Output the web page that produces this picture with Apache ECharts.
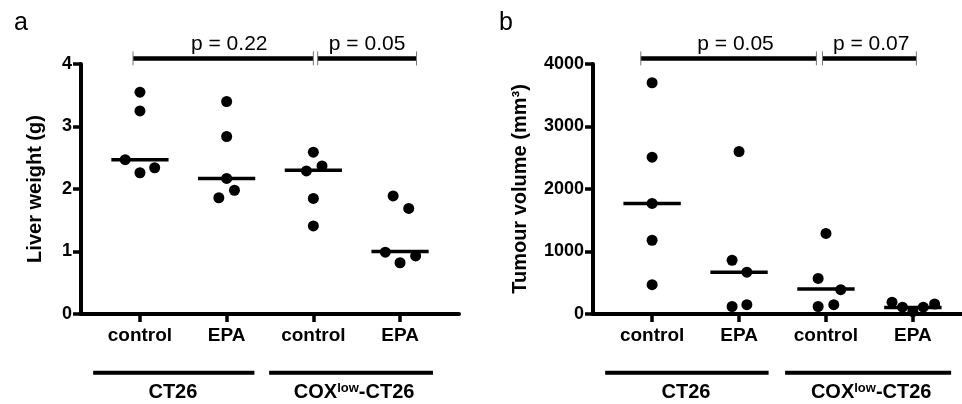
<!DOCTYPE html>
<html>
<head>
<meta charset="utf-8">
<script src="https://cdn.jsdelivr.net/npm/echarts@6/dist/echarts.min.js"></script>
<style>
  html, body { margin: 0; padding: 0; background: #fff; }
  #chart { width: 962px; height: 404px; }
</style>
</head>
<body>
<div id="chart"></div>
<script>
var groups = ['control', 'EPA', 'control', 'EPA'];
var cellLines = ['{b|CT26}', '{b|COX}{s|low}{b|-CT26}'];

// panel a: liver weight (g)
var liverWeight = [
  [3.55, 3.25, 2.47, 2.26, 2.34],
  [3.40, 2.84, 2.17, 1.98, 1.86],
  [2.59, 2.37, 2.29, 1.85, 1.41],
  [1.89, 1.69, 0.99, 0.93, 0.82]
];
var liverMedian = [2.47, 2.17, 2.30, 1.00];
var liverP = ['p = 0.22', 'p = 0.05'];

// panel b: tumour volume (mm3)
var tumourVolume = [
  [3700, 2510, 1770, 1180, 470],
  [2600, 860, 670, 120, 150],
  [1290, 570, 390, 120, 150],
  [190, 110, 40, 110, 160]
];
var tumourMedian = [1770, 670, 400, 105];
var tumourP = ['p = 0.05', 'p = 0.07'];

// horizontal jitter of the dots (category units)
var jitterA = [[0, 0, -0.17, 0, 0.17], [0, 0, 0, 0.09, -0.09], [0, 0.1, -0.08, 0, 0], [-0.08, 0.1, -0.17, 0.18, 0]];
var jitterB = [[0, 0, 0, 0, 0], [0, -0.08, 0.09, -0.08, 0.09], [0, -0.09, 0.17, -0.09, 0.09], [-0.24, -0.12, 0, 0.12, 0.25]];

var FONT = 'Liberation Sans, Arial, sans-serif';

function dots(vals, jit) {
  var out = [];
  for (var g = 0; g < vals.length; g++) {
    for (var i = 0; i < vals[g].length; i++) {
      out.push([g + jit[g][i], vals[g][i]]);
    }
  }
  return out;
}

// one segment per data item: [x1, y1, x2, y2]
function segSeries(idx, data, width, ticks) {
  return {
    type: 'custom', xAxisIndex: idx, yAxisIndex: idx, clip: false, silent: true,
    data: data,
    renderItem: function (params, api) {
      var p1 = api.coord([api.value(0), api.value(1)]);
      var p2 = api.coord([api.value(2), api.value(3)]);
      var kids = [{
        type: 'line',
        shape: { x1: p1[0], y1: p1[1], x2: p2[0], y2: p2[1] },
        style: { stroke: '#000', lineWidth: width }
      }];
      if (ticks) {
        [p1, p2].forEach(function (p) {
          kids.push({
            type: 'line',
            shape: { x1: p[0], y1: p[1] - 7, x2: p[0], y2: p[1] + 7 },
            style: { stroke: '#777', lineWidth: 1 }
          });
        });
      }
      return { type: 'group', children: kids };
    }
  };
}

function textSeries(idx, data, texts, size, weight) {
  return {
    type: 'custom', xAxisIndex: idx, yAxisIndex: idx, clip: false, silent: true,
    data: data,
    renderItem: function (params, api) {
      var p = api.coord([api.value(0), api.value(1)]);
      var t = texts[params.dataIndex];
      if (t.indexOf('{') < 0) t = '{b|' + t + '}';
      return {
        type: 'text', x: p[0], y: p[1],
        style: {
          text: t,
          align: 'center', verticalAlign: 'middle', fill: '#000',
          rich: {
            b: { fontSize: size, fontWeight: weight, fontFamily: FONT, fill: '#000' },
            s: { fontSize: 13, fontWeight: 'bold', fontFamily: FONT, fill: '#000', padding: [0, 0, 9, 0] }
          }
        }
      };
    }
  };
}

function medians(m) {
  return m.map(function (v, g) { return [g - 0.33, v, g + 0.33, v]; });
}

function xAxisOf(idx, max) {
  return {
    type: 'value', gridIndex: idx, min: -0.68, max: max,
    axisLine: { show: true, onZero: false, lineStyle: { color: '#000', width: 4 } },
    axisTick: { show: true, customValues: [0, 1, 2, 3], length: 8, lineStyle: { color: '#000', width: 3.5 } },
    axisLabel: {
      customValues: [0, 1, 2, 3], margin: 12,
      formatter: function (v) { return groups[Math.round(v)]; },
      color: '#000', fontSize: 19, fontWeight: 'bold', fontFamily: FONT
    },
    splitLine: { show: false }
  };
}

function yAxisOf(idx, max, step, name, gap) {
  return {
    type: 'value', gridIndex: idx, min: 0, max: max, interval: step,
    name: name, nameLocation: 'middle', nameGap: gap,
    nameTextStyle: { color: '#000', fontSize: 20, fontWeight: 'bold', fontFamily: FONT },
    axisLine: { show: true, onZero: false, lineStyle: { color: '#000', width: 4 } },
    axisTick: { show: true, length: 8, lineStyle: { color: '#000', width: 3.5 } },
    axisLabel: {
      color: '#000', fontSize: 18, fontWeight: 'bold', fontFamily: FONT, margin: 9,
      formatter: function (v) { return String(v); }
    },
    splitLine: { show: false }
  };
}

var chart = echarts.init(document.getElementById('chart'));
var option = {
  animation: false,
  backgroundColor: '#fff',
  title: [
    { text: 'a', left: 9, top: 6, textStyle: { fontSize: 25, fontWeight: 'normal', fontFamily: FONT, color: '#000' } },
    { text: 'b', left: 494, top: 6, textStyle: { fontSize: 25, fontWeight: 'normal', fontFamily: FONT, color: '#000' } }
  ],
  grid: [
    { left: 81, right: 503, top: 64, bottom: 90 },
    { left: 593, right: 0, top: 64, bottom: 90 }
  ],
  xAxis: [xAxisOf(0, 3.68), xAxisOf(1, 3.565)],
  yAxis: [
    yAxisOf(0, 4, 1, 'Liver weight (g)', 36),
    yAxisOf(1, 4000, 1000, 'Tumour volume (mm³)', 63)
  ],
  series: [
    { type: 'scatter', xAxisIndex: 0, yAxisIndex: 0, symbolSize: 11, itemStyle: { color: '#000', opacity: 1 }, data: dots(liverWeight, jitterA) },
    { type: 'scatter', xAxisIndex: 1, yAxisIndex: 1, symbolSize: 11, itemStyle: { color: '#000', opacity: 1 }, data: dots(tumourVolume, jitterB) },
    segSeries(0, medians(liverMedian), 3.5, false),
    segSeries(1, medians(tumourMedian), 3.5, false),
    segSeries(0, [[-0.08, 4.09, 2.0, 4.09], [2.05, 4.09, 3.19, 4.09]], 4.5, true),
    segSeries(1, [[-0.13, 4090, 1.89, 4090], [1.96, 4090, 3.04, 4090]], 4.5, true),
    textSeries(0, [[1.03, 4.32], [2.62, 4.32]], liverP, 21, 'normal'),
    textSeries(1, [[0.96, 4320], [2.52, 4320]], tumourP, 21, 'normal'),
    segSeries(0, [[-0.54, -0.94, 1.32, -0.94], [1.49, -0.94, 3.38, -0.94]], 4, false),
    segSeries(1, [[-0.54, -940, 1.34, -940], [1.53, -940, 3.44, -940]], 4, false),
    textSeries(0, [[0.38, -1.26], [2.47, -1.26]], cellLines, 20, 'bold'),
    textSeries(1, [[0.39, -1260], [2.52, -1260]], cellLines, 20, 'bold')
  ]
};
chart.setOption(option);
</script>
</body>
</html>
